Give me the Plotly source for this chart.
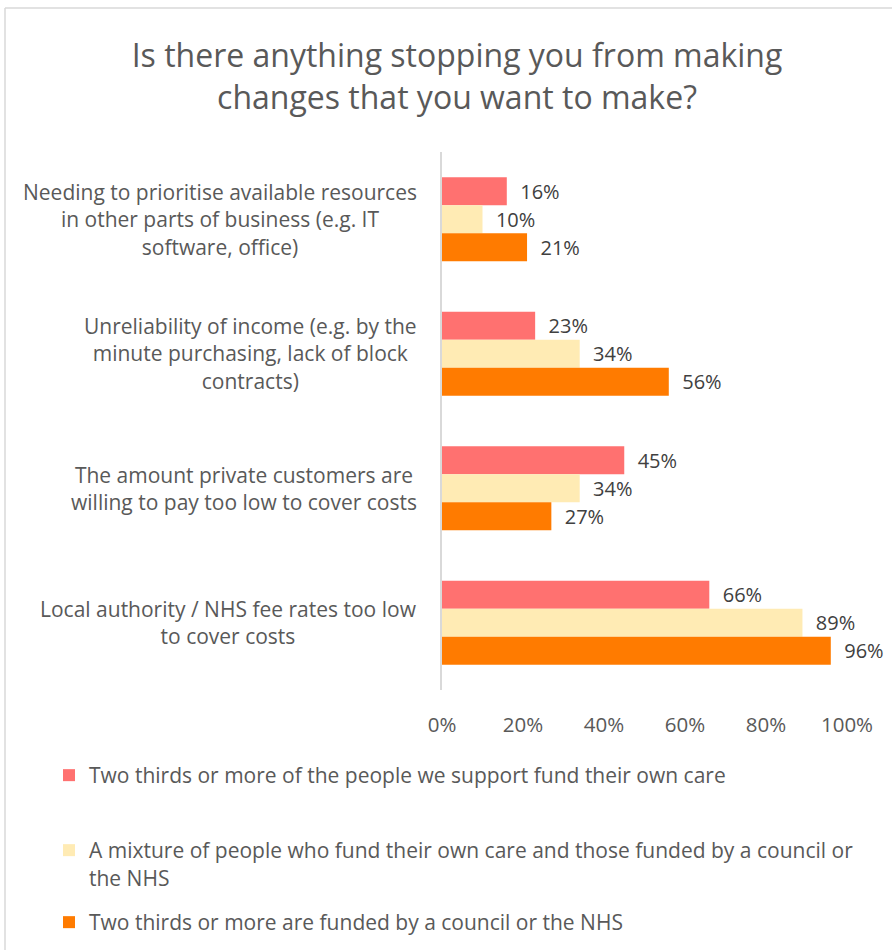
import plotly.graph_objects as go

categories = [
    "Needing to prioritise available resources<br>in other parts of business (e.g. IT<br>software, office)",
    "Unreliability of income (e.g. by the<br>minute purchasing, lack of block<br>contracts)",
    "The amount private customers are<br>willing to pay too low to cover costs",
    "Local authority / NHS fee rates too low<br>to cover costs",
]
series_names = [
    "Two thirds or more of the people we support fund their own care",
    "A mixture of people who fund their own care and those funded by a council or<br>the NHS",
    "Two thirds or more are funded by a council or the NHS",
]
self_funded = [16, 23, 45, 66]
mixture = [10, 34, 34, 89]
council_funded = [21, 56, 27, 96]
tick_values = [0, 20, 40, 60, 80, 100]
tick_labels = ["0%", "20%", "40%", "60%", "80%", "100%"]

colors = ["#FF7170", "#FFEBB4", "#FF7B00"]
W, H = 892, 950
L, R, T, B = 442, 45, 152, 260
PW, PH = W - L - R, H - T - B

def px_x(px):
    return (px - L) / PW

def px_y(py):
    return (H - B - py) / PH

FONT = "Open Sans"
GREY = "#595959"

fig = go.Figure()
series = [self_funded, mixture, council_funded]
legends = ["legend", "legend2", "legend3"]
for name, vals, col, lg in zip(series_names, series, colors, legends):
    fig.add_trace(go.Bar(
        y=categories, x=vals, name=name, orientation="h",
        marker=dict(color=col, line=dict(width=0)),
        text=[f"\u00a0\u00a0{v}%" for v in vals], texttemplate="%{text}",
        textposition="outside",
        textfont=dict(family=FONT, size=20, color="#404040"),
        constraintext="none", cliponaxis=False, legend=lg,
    ))

# category labels (centered lines, right-aligned block)
for cat in categories:
    fig.add_annotation(
        x=px_x(419), xref="paper", y=cat, yref="y",
        text=cat, showarrow=False, xanchor="right", align="center",
        yanchor="middle",
        font=dict(family=FONT, size=21, color=GREY),
    )

# chart frame (cropped on right/bottom)
fig.add_shape(type="line", xref="paper", yref="paper",
              x0=px_x(5), x1=px_x(5), y0=px_y(8), y1=px_y(H + 5),
              line=dict(color="#D9D9D9", width=1.5))
fig.add_shape(type="line", xref="paper", yref="paper",
              x0=px_x(5), x1=px_x(W + 5), y0=px_y(8), y1=px_y(8),
              line=dict(color="#D9D9D9", width=1.5))

leg_common = dict(xref="container", yref="container", xanchor="left", yanchor="top",
                  font=dict(family=FONT, size=21, color=GREY), bgcolor="rgba(0,0,0,0)",
                  valign="top", itemclick=False)
fig.update_layout(
    width=W, height=H,
    margin=dict(l=L, r=R, t=T, b=B, autoexpand=False),
    paper_bgcolor="white", plot_bgcolor="white",
    barmode="group", bargap=0.375, bargroupgap=0,
    title=dict(text="Is there anything stopping you from making<br>changes that you want to make?",
               x=457 / W, xanchor="center", xref="container",
               y=1 - 67 / H, yanchor="top", yref="container",
               font=dict(family=FONT, size=32, color=GREY)),
    xaxis=dict(range=[0, 100], tickvals=tick_values, ticktext=tick_labels,
               showgrid=False, zeroline=False, showline=False, ticks="",
               ticklabelstandoff=20, tickangle=0,
               tickfont=dict(family=FONT, size=20.5, color=GREY), fixedrange=True),
    yaxis=dict(autorange="reversed", showticklabels=False, ticks="",
               showline=True, linecolor="#D9D9D9", linewidth=2,
               showgrid=False, zeroline=False, fixedrange=True),
    legend=dict(x=49 / W, y=1 - 755 / H, **leg_common),
    legend2=dict(x=49 / W, y=1 - 830 / H, **leg_common),
    legend3=dict(x=49 / W, y=1 - 902 / H, **leg_common),
    showlegend=True,
)

fig.write_html("out.html")
